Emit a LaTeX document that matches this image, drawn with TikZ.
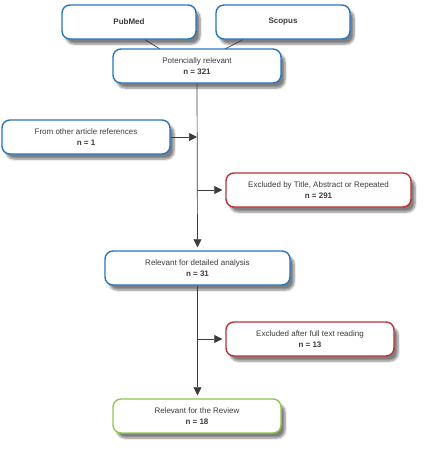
\documentclass[tikz,border=0pt]{standalone}
\usepackage{fontspec}
\setmainfont{Liberation Sans}
\usetikzlibrary{shadows.blur,arrows.meta}
\definecolor{blue}{RGB}{40,116,188}
\definecolor{red}{RGB}{190,48,52}
\definecolor{green}{RGB}{140,200,80}
\definecolor{ink}{RGB}{60,60,60}

\begin{document}
\begin{tikzpicture}[x=1pt,y=-1pt,
  box/.style={draw=#1,line width=1.4pt,fill=white,rounded corners=8pt,minimum height=34pt,
    align=center,text=ink,font=\fontsize{8}{10.5}\selectfont,
    blur shadow={shadow xshift=4pt,shadow yshift=-5pt,shadow blur steps=6,shadow opacity=50}},
  box/.default=blue,
  link/.style={draw=ink,line width=0.7pt},
  arr/.style={link,-{Triangle[length=8pt,width=8pt]}}]
\useasboundingbox (0,0) rectangle (425,464);
\node[box,minimum width=134pt] (pubmed) at (129,22) {\textbf{PubMed}};
\node[box,minimum width=134pt] (scopus) at (283,22) {\textbf{Scopus}};
\draw[link] ([xshift=16pt]pubmed.south) -- (160,49);
\draw[link] ([xshift=-40pt]scopus.south) -- (225,49);
\node[box,minimum width=168pt] (potential) at (197,66) {Potencially relevant\\\textbf{n = 321}};
\node[box,minimum width=168pt] (other) at (86,137) {From other article references\\\textbf{n = 1}};
\node[box=red,minimum width=185pt] (excl1) at (318.5,190) {Excluded by Title, Abstract or Repeated\\\textbf{n = 291}};
\node[box,minimum width=185pt] (detail) at (197.5,268) {Relevant for detailed analysis\\\textbf{n = 31}};
\node[box=red,minimum width=168pt] (excl2) at (310,339) {Excluded after full text reading\\\textbf{n = 13}};
\node[box=green,minimum width=168pt] (review) at (197,416) {Relevant for the Review\\\textbf{n = 18}};
\coordinate (j1) at (potential.south |- excl1.west);
\coordinate (j2) at (potential.south |- excl2.west);
\draw[arr] (potential.south) -- ([yshift=3pt]detail.north);
\draw[arr] (other.east) -- (other.east -| potential.south);
\draw[arr] (j1) -- ([xshift=-3pt]excl1.west);
\draw[arr] (detail.south) -- ([yshift=3pt]review.north -| detail.south);
\draw[arr] (detail.south |- excl2.west) -- ([xshift=-3pt]excl2.west);
\end{tikzpicture}
\end{document}
